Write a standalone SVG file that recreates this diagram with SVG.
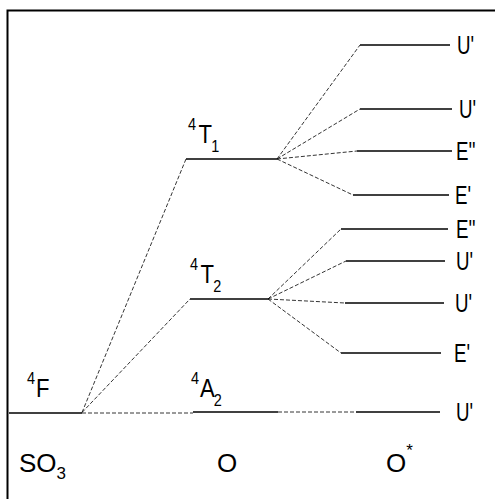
<svg xmlns="http://www.w3.org/2000/svg" width="495" height="499" viewBox="0 0 495 499">
<style>
.lvl{stroke:#000;stroke-width:1.3;fill:none}
.dash{stroke:#000;stroke-width:0.8;stroke-dasharray:4,2;fill:none}
text{font-family:"Liberation Sans",Arial,sans-serif;font-size:26px;fill:#000}
.s{font-size:17px}
</style>
<rect x="0" y="0" width="495" height="499" fill="#fff"/>
<rect x="7.5" y="10.5" width="500" height="500" fill="none" stroke="#000" stroke-width="2"/>
<g id="connectors">
<line class="dash" x1="82" y1="412.5" x2="186" y2="159"/>
<line class="dash" x1="82" y1="412.5" x2="190" y2="299"/>
<line class="dash" x1="82" y1="413" x2="193" y2="413"/>
<line class="dash" x1="278" y1="412" x2="356" y2="412"/>
<line class="dash" x1="277" y1="159" x2="360" y2="45"/>
<line class="dash" x1="277" y1="159" x2="360" y2="109"/>
<line class="dash" x1="277" y1="159" x2="357" y2="151"/>
<line class="dash" x1="277" y1="159" x2="353" y2="195"/>
<line class="dash" x1="268" y1="299" x2="341" y2="229"/>
<line class="dash" x1="268" y1="299" x2="346" y2="261"/>
<line class="dash" x1="268" y1="299" x2="345" y2="303"/>
<line class="dash" x1="268" y1="299" x2="341" y2="353"/>
</g>
<g id="n-4F"><line class="lvl" x1="9" y1="413" x2="82" y2="413"/><text transform="translate(27,397) scale(0.85,1)"><tspan class="s" dy="-13">4</tspan><tspan dx="1" dy="13">F</tspan></text></g>
<g id="n-4A2"><line class="lvl" x1="193" y1="412" x2="278" y2="412"/><text transform="translate(191,397) scale(0.85,1)"><tspan class="s" dy="-13">4</tspan><tspan dx="1" dy="13">A</tspan><tspan class="s" dx="-1" dy="9">2</tspan></text></g>
<g id="n-4T2"><line class="lvl" x1="190" y1="299" x2="268" y2="299"/><text transform="translate(190,283) scale(0.85,1)"><tspan class="s" dy="-13">4</tspan><tspan dx="3" dy="13">T</tspan><tspan class="s" dx="-1" dy="9">2</tspan></text></g>
<g id="n-4T1"><line class="lvl" x1="186" y1="159" x2="277" y2="159"/><text transform="translate(188,143) scale(0.85,1)"><tspan class="s" dy="-13">4</tspan><tspan dx="3" dy="13">T</tspan><tspan class="s" dx="-1" dy="9">1</tspan></text></g>
<g id="n-U1"><line class="lvl" x1="360" y1="45" x2="450" y2="45"/><text transform="translate(457,54) scale(0.72,1)">U'</text></g>
<g id="n-U2"><line class="lvl" x1="360" y1="109" x2="452" y2="109"/><text transform="translate(459,118) scale(0.72,1)">U'</text></g>
<g id="n-E1"><line class="lvl" x1="357" y1="151" x2="452" y2="151"/><text transform="translate(456,160) scale(0.72,1)">E''</text></g>
<g id="n-E2"><line class="lvl" x1="353" y1="195" x2="449" y2="195"/><text transform="translate(455,204) scale(0.72,1)">E'</text></g>
<g id="n-E3"><line class="lvl" x1="341" y1="229" x2="448" y2="229"/><text transform="translate(456,238) scale(0.72,1)">E''</text></g>
<g id="n-U3"><line class="lvl" x1="346" y1="261" x2="445" y2="261"/><text transform="translate(456,270) scale(0.72,1)">U'</text></g>
<g id="n-U4"><line class="lvl" x1="345" y1="303" x2="444" y2="303"/><text transform="translate(455,312) scale(0.72,1)">U'</text></g>
<g id="n-E4"><line class="lvl" x1="341" y1="353" x2="441" y2="353"/><text transform="translate(454,362) scale(0.72,1)">E'</text></g>
<g id="n-U5"><line class="lvl" x1="356" y1="412" x2="440" y2="412"/><text transform="translate(456,421) scale(0.72,1)">U'</text></g>
<g id="labels">
<text x="19" y="472">SO<tspan class="s" dy="7">3</tspan></text>
<text x="217" y="472">O</text>
<text x="386" y="472">O<tspan class="s" dy="-16">*</tspan></text>
</g>
</svg>
